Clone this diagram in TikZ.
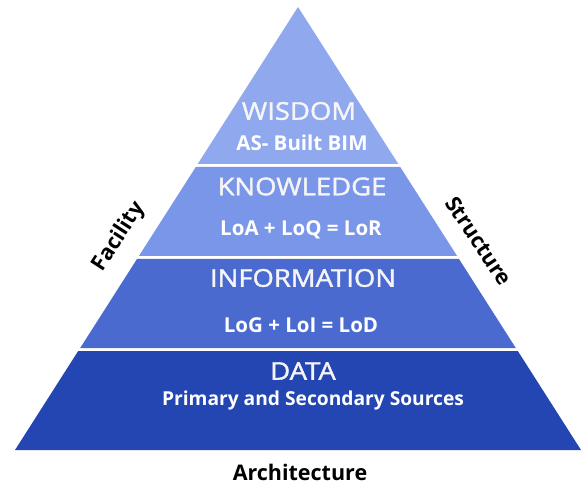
\documentclass[tikz,border=0pt]{standalone}
\usepackage{fontspec}
\setmainfont{Open Sans}
\newfontfamily\headfont[FakeStretch=1.12,FakeBold=1.6]{Open Sans}
\begin{document}
\begin{tikzpicture}[x=1pt,y=-1pt,
  head/.style={text=white!96!black,font=\headfont\fontsize{24.5}{26}\selectfont,inner sep=0pt,anchor=center},
  sub/.style={text=white,font=\fontsize{20.5}{22}\bfseries\selectfont,inner sep=0pt,anchor=center},
  side/.style={text=black,font=\fontsize{21.5}{23}\bfseries\selectfont,inner sep=0pt,anchor=center}]
\definecolor{cwis}{RGB}{143,168,238}
\definecolor{ckno}{RGB}{122,150,232}
\definecolor{cinf}{RGB}{74,106,208}
\definecolor{cdat}{RGB}{35,70,178}
\useasboundingbox (0,0) rectangle (581,486);
\fill[white] (0,0) rectangle (581,486);
% bands
\fill[cwis] (298,7) -- (398.3,164) -- (197.7,164) -- cycle;
\fill[ckno] (195.8,167) -- (400.2,167) -- (457.1,256) -- (138.9,256) -- cycle;
\fill[cinf] (137.0,259) -- (459.0,259) -- (515.8,348) -- (80.2,348) -- cycle;
\fill[cdat] (78.2,351) -- (517.8,351) -- (581,450) -- (15,450) -- cycle;
% texts
\node[head] (wis) at (299,111) {WISDOM};
\node[sub] (wiss) at (302,143) {AS- Built BIM};
\node[head] (kno) at (302,186.5) {KNOWLEDGE};
\node[sub] (knos) at (301,230) {LoA + LoQ = LoR};
\node[head] (inf) at (303,278) {INFORMATION};
\node[sub] (infs) at (301,325) {LoG + LoI = LoD};
\node[head] (dat) at (303,371) {DATA};
\node[sub,font=\fontsize{19.2}{21}\bfseries\selectfont] (dats) at (313,401) {Primary and Secondary Sources};
\node[side] (arch) at (300,472) {Architecture};
\node[side,rotate=57] (fac) at (119,237) {Facility};
\node[side,rotate=-56] (str) at (479,241) {Structure};
\end{tikzpicture}
\end{document}
